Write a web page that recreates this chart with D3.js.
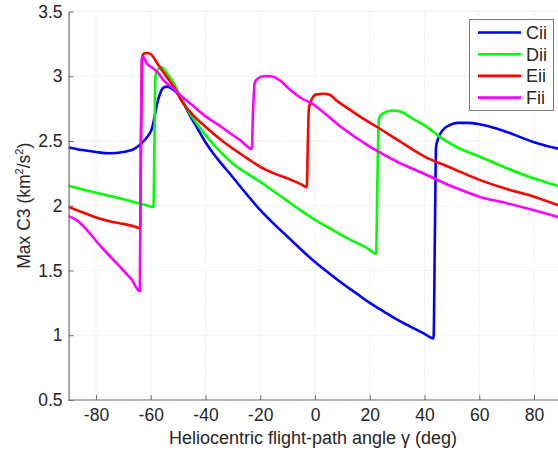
<!DOCTYPE html>
<html>
<head>
<meta charset="utf-8">
<script src="https://cdn.jsdelivr.net/npm/d3@7/dist/d3.min.js"></script>
<style>
  html, body { margin: 0; padding: 0; background: #fff; }
  svg { display: block; font-family: "Liberation Sans", Arial, sans-serif; }
</style>
</head>
<body>
<svg id="chart" width="558" height="450"></svg>
<script>
// Flight-path angle γ (deg) and max C3 (km²/s²) for each trajectory family
const ciiAngle = [-90, -85, -80, -75, -70, -66, -63, -61, -59.5, -58.5, -57.5, -56.5, -55.5, -54, -52, -50, -48.7, -46, -43, -40, -37, -34, -31, -25, -21, -15, -9, -5, 0, 5, 10, 15, 20, 25, 30, 35, 40, 43.3, 43.8, 44.2, 45, 46.5, 49, 52, 56, 60, 65, 70, 75, 80, 85, 90];
const ciiC3 = [2.45, 2.43, 2.415, 2.405, 2.415, 2.44, 2.49, 2.54, 2.60, 2.70, 2.80, 2.87, 2.91, 2.92, 2.90, 2.86, 2.82, 2.71, 2.60, 2.49, 2.40, 2.32, 2.245, 2.09, 1.99, 1.86, 1.74, 1.66, 1.565, 1.48, 1.40, 1.325, 1.25, 1.185, 1.12, 1.065, 1.01, 0.975, 1.8, 2.45, 2.52, 2.58, 2.62, 2.64, 2.64, 2.63, 2.605, 2.57, 2.53, 2.49, 2.46, 2.435];

const diiAngle = [-90, -80, -70, -62, -59, -58.7, -58.3, -57.5, -56, -54, -52, -50, -48.7, -45, -42, -39, -35, -30, -25, -20, -15, -10, -5, 0, 5, 10, 15, 20, 22.3, 22.8, 23.3, 24, 26, 29, 32, 35, 40, 47, 52, 60, 70, 80, 90];
const diiC3 = [2.155, 2.10, 2.05, 2.005, 1.99, 2.4, 3.0, 3.05, 3.07, 3.02, 2.96, 2.88, 2.82, 2.69, 2.60, 2.52, 2.425, 2.325, 2.25, 2.185, 2.11, 2.035, 1.96, 1.89, 1.83, 1.77, 1.715, 1.66, 1.627, 2.2, 2.66, 2.70, 2.725, 2.735, 2.72, 2.68, 2.62, 2.51, 2.45, 2.38, 2.29, 2.21, 2.145];

const eiiAngle = [-90, -85, -80, -75, -70, -66, -63.9, -63.5, -63.1, -62.5, -61, -60, -57, -54, -51, -49.3, -45, -40, -35, -31, -25, -20, -15, -10, -5, -3, -2.6, -2.2, -1, 0.5, 3, 5, 8, 12.8, 17, 22.5, 30, 40, 50, 60, 70, 80, 90];
const eiiC3 = [1.99, 1.95, 1.91, 1.88, 1.86, 1.84, 1.826, 2.6, 3.15, 3.175, 3.18, 3.17, 3.08, 2.99, 2.90, 2.83, 2.71, 2.61, 2.52, 2.456, 2.37, 2.30, 2.25, 2.21, 2.165, 2.143, 2.5, 2.76, 2.83, 2.86, 2.865, 2.86, 2.81, 2.74, 2.68, 2.61, 2.51, 2.38, 2.29, 2.20, 2.13, 2.07, 1.995];

const fiiAngle = [-90, -88, -86, -82, -78, -74, -70, -67, -64, -63.7, -63.3, -62.8, -61.5, -59.7, -57.5, -55.4, -52, -49.3, -45, -40, -35, -31, -27, -23.1, -22.6, -22, -21, -19, -16, -13, -9, -5, -1.2, 2, 10, 20, 30, 40, 50, 60, 70, 80, 90];
const fiiC3 = [1.92, 1.90, 1.87, 1.78, 1.68, 1.59, 1.50, 1.43, 1.34, 2.2, 3.13, 3.15, 3.10, 3.07, 3.03, 2.97, 2.91, 2.855, 2.78, 2.69, 2.62, 2.56, 2.50, 2.44, 2.75, 2.95, 2.98, 3.0, 3.0, 2.97, 2.894, 2.83, 2.79, 2.74, 2.60, 2.456, 2.34, 2.245, 2.15, 2.07, 2.02, 1.965, 1.905];

const seriesNames = ["Cii", "Dii", "Eii", "Fii"];
const seriesColors = ["#0000ff", "#00ff00", "#ff0000", "#ff00ff"];
const xTicks = [-80, -60, -40, -20, 0, 20, 40, 60, 80];
const yTicks = [0.5, 1, 1.5, 2, 2.5, 3, 3.5];

const series = [
  { name: seriesNames[0], color: seriesColors[0], xs: ciiAngle, ys: ciiC3 },
  { name: seriesNames[1], color: seriesColors[1], xs: diiAngle, ys: diiC3 },
  { name: seriesNames[2], color: seriesColors[2], xs: eiiAngle, ys: eiiC3 },
  { name: seriesNames[3], color: seriesColors[3], xs: fiiAngle, ys: fiiC3 }
];

const W = 558, H = 450;
const mLeft = 68.6, mRight = 561.4, mTop = 11.5, mBottom = 400;

const svg = d3.select("#chart");
const x = d3.scaleLinear().domain([-90, 90]).range([mLeft, mRight]);
const y = d3.scaleLinear().domain([0.5, 3.5]).range([mBottom, mTop]);

const axisColor = "#6e6e6e";
const textColor = "#262626";

// clip region for the plotting area (the right edge runs past the page)
svg.append("defs").append("clipPath").attr("id", "plotClip")
  .append("rect").attr("x", mLeft).attr("y", mTop).attr("width", mRight - mLeft).attr("height", mBottom - mTop);

// background grid
const grid = svg.append("g").attr("stroke", "#d4d4d4").attr("stroke-width", 0.8).attr("stroke-dasharray", "1,2");
grid.selectAll("line.gx").data(xTicks).join("line").attr("class", "gx")
  .attr("x1", d => x(d)).attr("x2", d => x(d)).attr("y1", mTop).attr("y2", mBottom);
grid.selectAll("line.gy").data(yTicks).join("line").attr("class", "gy")
  .attr("x1", mLeft).attr("x2", mRight).attr("y1", d => y(d)).attr("y2", d => y(d));

// curves
const path = d3.line().x(d => x(d[0])).y(d => y(d[1])).curve(d3.curveMonotoneX);
const lines = svg.append("g").attr("clip-path", "url(#plotClip)");
series.forEach(s => {
  const pts = s.xs.map((v, i) => [v, s.ys[i]]);
  lines.append("path").datum(pts)
    .attr("fill", "none").attr("stroke", s.color).attr("stroke-width", 2.6)
    .attr("stroke-linejoin", "round").attr("stroke-linecap", "round")
    .attr("d", path);
});

// axes, ticks pointing into the plot
const xAxis = d3.axisBottom(x).tickValues(xTicks).tickSizeInner(-5).tickSizeOuter(0).tickPadding(10).tickFormat(d => String(d));
const yAxis = d3.axisLeft(y).tickValues(yTicks).tickSizeInner(-5).tickSizeOuter(0).tickPadding(10).tickFormat(d => String(d));

const gx = svg.append("g").attr("transform", `translate(0,${mBottom})`).call(xAxis);
const gy = svg.append("g").attr("transform", `translate(${mLeft},0)`).call(yAxis);
[gx, gy].forEach(g => {
  g.select(".domain").attr("stroke", axisColor).attr("stroke-width", 1.2);
  g.selectAll(".tick line").attr("stroke", axisColor).attr("stroke-width", 1);
  g.selectAll(".tick text").attr("fill", textColor).attr("font-size", 17.5)
    .attr("font-family", "Liberation Sans, Arial, sans-serif");
});
gx.select(".domain").attr("d", `M${mLeft},0H${W}`);
gy.selectAll(".tick text").attr("x", -6);
gx.selectAll(".tick text").attr("y", 9);

// axis titles
svg.append("text")
  .attr("x", 313).attr("y", 444)
  .attr("text-anchor", "middle").attr("fill", textColor).attr("font-size", 18)
  .text("Heliocentric flight-path angle γ (deg)");

const yl = svg.append("text")
  .attr("transform", `translate(30,${(mTop + mBottom) / 2}) rotate(-90)`)
  .attr("text-anchor", "middle").attr("fill", textColor).attr("font-size", 17.5);
yl.append("tspan").text("Max C3 (km");
yl.append("tspan").attr("font-size", 11).attr("dy", -7).text("2");
yl.append("tspan").attr("dy", 7).text("/s");
yl.append("tspan").attr("font-size", 11).attr("dy", -7).text("2");
yl.append("tspan").attr("dy", 7).text(")");

// legend
const lg = svg.append("g");
lg.append("rect").attr("x", 469.5).attr("y", 19.5).attr("width", 84).attr("height", 91)
  .attr("fill", "#fff").attr("stroke", "#7a7a7a").attr("stroke-width", 1);
series.forEach((s, i) => {
  const cy = 32.5 + i * 21.7;
  lg.append("line").attr("x1", 478).attr("x2", 521).attr("y1", cy).attr("y2", cy)
    .attr("stroke", s.color).attr("stroke-width", 2.6);
  lg.append("text").attr("x", 526).attr("y", cy + 6.5)
    .attr("fill", textColor).attr("font-size", 18).text(s.name);
});
</script>
</body>
</html>
